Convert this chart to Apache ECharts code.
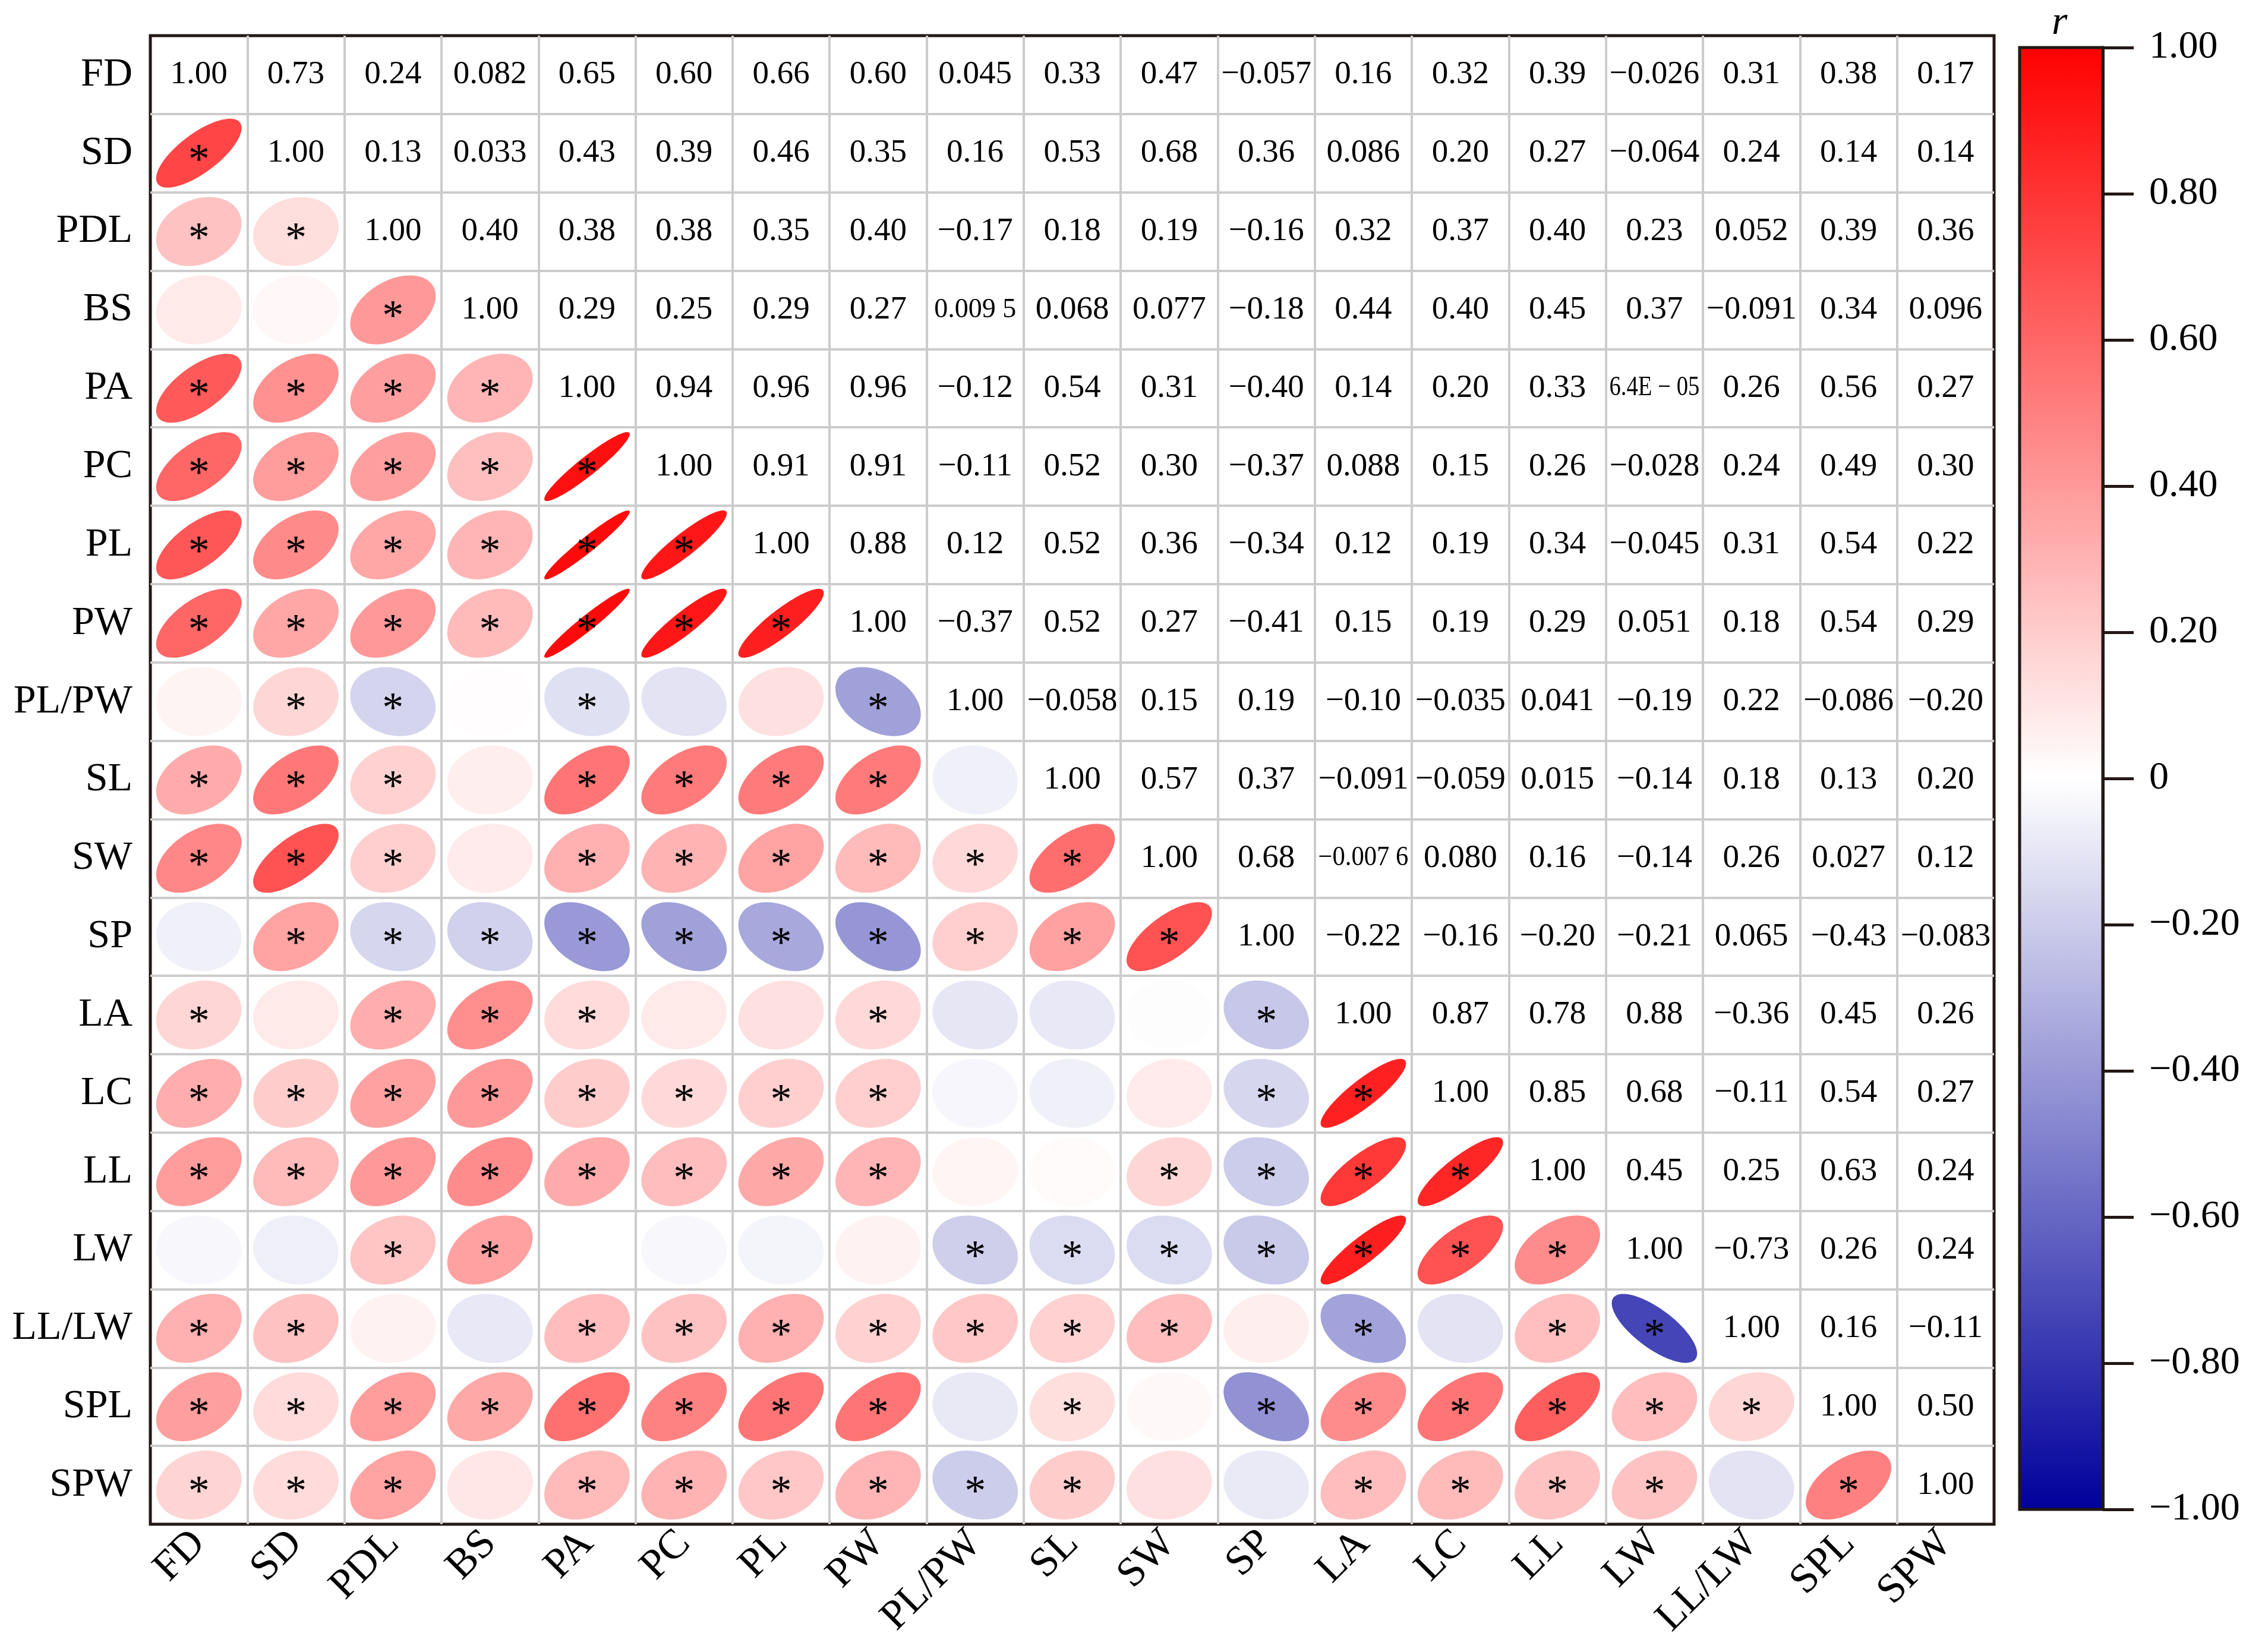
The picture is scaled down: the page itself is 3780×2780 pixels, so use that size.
<!DOCTYPE html>
<html>
<head>
<meta charset="utf-8">
<script src="https://cdn.jsdelivr.net/npm/echarts@6/dist/echarts.min.js"></script>
<style>
  html, body { margin: 0; padding: 0; background: #fff; }
  #chart { width: 3780px; height: 2780px; }
</style>
</head>
<body>
<div id="chart"></div>
<script>
const variables = ['FD', 'SD', 'PDL', 'BS', 'PA', 'PC', 'PL', 'PW', 'PL/PW', 'SL', 'SW', 'SP', 'LA', 'LC', 'LL', 'LW', 'LL/LW', 'SPL', 'SPW'];

// upper triangle: r of each row with the columns right of the diagonal
const rowFD = [0.73, 0.24, 0.082, 0.65, 0.60, 0.66, 0.60, 0.045, 0.33, 0.47, -0.057, 0.16, 0.32, 0.39, -0.026, 0.31, 0.38, 0.17];
const rowSD = [0.13, 0.033, 0.43, 0.39, 0.46, 0.35, 0.16, 0.53, 0.68, 0.36, 0.086, 0.20, 0.27, -0.064, 0.24, 0.14, 0.14];
const rowPDL = [0.40, 0.38, 0.38, 0.35, 0.40, -0.17, 0.18, 0.19, -0.16, 0.32, 0.37, 0.40, 0.23, 0.052, 0.39, 0.36];
const rowBS = [0.29, 0.25, 0.29, 0.27, 0.0095, 0.068, 0.077, -0.18, 0.44, 0.40, 0.45, 0.37, -0.091, 0.34, 0.096];
const rowPA = [0.94, 0.96, 0.96, -0.12, 0.54, 0.31, -0.40, 0.14, 0.20, 0.33, 6.4e-5, 0.26, 0.56, 0.27];
const rowPC = [0.91, 0.91, -0.11, 0.52, 0.30, -0.37, 0.088, 0.15, 0.26, -0.028, 0.24, 0.49, 0.30];
const rowPL = [0.88, 0.12, 0.52, 0.36, -0.34, 0.12, 0.19, 0.34, -0.045, 0.31, 0.54, 0.22];
const rowPW = [-0.37, 0.52, 0.27, -0.41, 0.15, 0.19, 0.29, 0.051, 0.18, 0.54, 0.29];
const rowPLPW = [-0.058, 0.15, 0.19, -0.10, -0.035, 0.041, -0.19, 0.22, -0.086, -0.20];
const rowSL = [0.57, 0.37, -0.091, -0.059, 0.015, -0.14, 0.18, 0.13, 0.20];
const rowSW = [0.68, -0.0076, 0.080, 0.16, -0.14, 0.26, 0.027, 0.12];
const rowSP = [-0.22, -0.16, -0.20, -0.21, 0.065, -0.43, -0.083];
const rowLA = [0.87, 0.78, 0.88, -0.36, 0.45, 0.26];
const rowLC = [0.85, 0.68, -0.11, 0.54, 0.27];
const rowLL = [0.45, 0.25, 0.63, 0.24];
const rowLW = [-0.73, 0.26, 0.24];
const rowLLLW = [0.16, -0.11];
const rowSPL = [0.50];
const rowSPW = [];
const upperRows = [rowFD, rowSD, rowPDL, rowBS, rowPA, rowPC, rowPL, rowPW, rowPLPW, rowSL,
  rowSW, rowSP, rowLA, rowLC, rowLL, rowLW, rowLLLW, rowSPL, rowSPW];

// lower triangle significance marks, columns left of the diagonal ('*' = significant)
const sigRows = [
  '',
  '*',
  '**',
  '..*',
  '****',
  '*****',
  '******',
  '*******',
  '.**.*..*',
  '***.****.',
  '***.******',
  '.**********',
  '*.***..*...*',
  '********...**',
  '********..****',
  '..**....*******',
  '**..*******.*.**',
  '********.*.******',
  '***.******..****.*'
];

const paletteColors = ['#00009C', '#FFFFFF', '#FF0000'];
const serif = '"Liberation Serif", "Times New Roman", serif';
const ink = '#231815';

function corrAt(i, j) {
  if (i === j) return 1;
  const a = Math.min(i, j), b = Math.max(i, j);
  return upperRows[a][b - a - 1];
}

const ellipseData = [];
const valueData = [];
for (let i = 0; i < variables.length; i++) {
  for (let j = 0; j < variables.length; j++) {
    if (j < i) ellipseData.push([j, i, corrAt(i, j), sigRows[i][j] === '*' ? 1 : 0]);
    else valueData.push([j, i, corrAt(i, j), i === j ? 1 : 0]);
  }
}

function fmtCorr(v, diag) {
  if (diag) return '1.00';
  const a = Math.abs(v);
  const sign = v < 0 ? '−' : '';
  if (a < 0.001) {
    const parts = a.toExponential(1).split('e');
    return sign + parts[0] + 'E − ' + String(-Number(parts[1])).padStart(2, '0');
  }
  const s = a.toPrecision(2).split('.');
  let dec = s[1];
  if (dec.length > 3) dec = dec.slice(0, 3) + ' ' + dec.slice(3);
  return sign + s[0] + '.' + dec;
}

const measureCtx = document.createElement('canvas').getContext('2d');
function textWidth(txt, size) {
  measureCtx.font = size + 'px "Liberation Serif"';
  return measureCtx.measureText(txt).width;
}

function renderEllipse(params, api) {
  const c = api.coord([api.value(0), api.value(1)]);
  const cell = api.size([1, 1]);
  const d = Math.acos(api.value(2));
  const pts = [];
  for (let k = 0; k < 120; k++) {
    const t = k / 120 * Math.PI * 2;
    pts.push([c[0] + 0.44 * cell[0] * Math.cos(t + d / 2), c[1] - 0.44 * cell[1] * Math.cos(t - d / 2)]);
  }
  const children = [{
    type: 'polygon',
    shape: { points: pts },
    style: { fill: api.visual('color') }
  }];
  if (api.value(3) === 1) {
    children.push({
      type: 'text',
      x: c[0],
      y: c[1] + 14,
      style: { text: '*', fontSize: 72, fontFamily: serif, fill: '#000', align: 'center', verticalAlign: 'middle' }
    });
  }
  return { type: 'group', children: children };
}

function renderValue(params, api) {
  const c = api.coord([api.value(0), api.value(1)]);
  const cell = api.size([1, 1]);
  const txt = fmtCorr(api.value(2), api.value(3) === 1);
  const size = txt.indexOf(' ') >= 0 ? 46 : 55;
  const sx = Math.min(1, cell[0] * 0.93 / textWidth(txt, size));
  return {
    type: 'text',
    x: c[0],
    y: c[1],
    scaleX: sx,
    style: { text: txt, fontSize: size, fontFamily: serif, fill: '#000', align: 'center', verticalAlign: 'middle' }
  };
}

function renderColorBar(params, api) {
  const p0 = api.coord([0, api.value(1)]);
  const p1 = api.coord([1, api.value(0)]);
  return {
    type: 'rect',
    shape: { x: p0[0], y: p0[1], width: p1[0] - p0[0], height: p1[1] - p0[1] },
    style: {
      fill: new echarts.graphic.LinearGradient(0, 0, 0, 1, [
        { offset: 0, color: paletteColors[2] },
        { offset: 0.5, color: paletteColors[1] },
        { offset: 1, color: paletteColors[0] }
      ]),
      stroke: ink,
      lineWidth: 5
    }
  };
}

const chart = echarts.init(document.getElementById('chart'));

const option = {
  animation: false,
  backgroundColor: '#fff',
  title: {
    text: 'r',
    left: 3448,
    top: 0,
    textStyle: { fontFamily: serif, fontStyle: 'italic', fontWeight: 'normal', fontSize: 68, color: '#000' }
  },
  grid: [
    { left: 253, top: 60, width: 3103, height: 2505, show: true, borderColor: ink, borderWidth: 5, backgroundColor: 'transparent' },
    { left: 3399, top: 80, width: 140, height: 2460 }
  ],
  xAxis: [
    {
      type: 'category',
      gridIndex: 0,
      data: variables,
      axisLine: { show: false },
      axisTick: { show: false },
      axisLabel: { interval: 0, rotate: 45, margin: 22, padding: [50, 0, 0, 0], fontSize: 70, fontFamily: serif, color: '#000' },
      splitLine: { show: true, interval: 0, showMinLine: false, showMaxLine: false, lineStyle: { color: '#CCCCCC', width: 4 } }
    },
    { type: 'value', gridIndex: 1, min: 0, max: 1, show: false }
  ],
  yAxis: [
    {
      type: 'category',
      gridIndex: 0,
      inverse: true,
      data: variables,
      axisLine: { show: false },
      axisTick: { show: false },
      axisLabel: { interval: 0, margin: 30, fontSize: 68, fontFamily: serif, color: '#000' },
      splitLine: { show: true, interval: 0, showMinLine: false, showMaxLine: false, lineStyle: { color: '#CCCCCC', width: 4 } }
    },
    {
      type: 'value',
      gridIndex: 1,
      position: 'right',
      min: -1,
      max: 1,
      interval: 0.2,
      z: 5,
      axisLine: { show: true, onZero: false, lineStyle: { color: ink, width: 5 } },
      axisTick: { show: true, inside: false, length: 52, lineStyle: { color: ink, width: 5 } },
      splitLine: { show: false },
      axisLabel: {
        margin: 78,
        fontSize: 66,
        fontFamily: serif,
        color: '#000',
        formatter: function (v) {
          if (Math.abs(v) < 1e-9) return '0';
          return (v < 0 ? '−' : '') + Math.abs(v).toFixed(2);
        }
      }
    }
  ],
  visualMap: {
    type: 'continuous',
    show: false,
    min: -1,
    max: 1,
    dimension: 2,
    seriesIndex: 0,
    inRange: { color: paletteColors }
  },
  series: [
    {
      type: 'custom',
      name: 'ellipse',
      xAxisIndex: 0,
      yAxisIndex: 0,
      renderItem: renderEllipse,
      data: ellipseData,
      z: 3
    },
    {
      type: 'custom',
      name: 'value',
      xAxisIndex: 0,
      yAxisIndex: 0,
      renderItem: renderValue,
      data: valueData,
      z: 3
    },
    {
      type: 'custom',
      name: 'colorbar',
      xAxisIndex: 1,
      yAxisIndex: 1,
      renderItem: renderColorBar,
      data: [[-1, 1]],
      z: 3
    }
  ]
};

chart.setOption(option);
</script>
</body>
</html>
